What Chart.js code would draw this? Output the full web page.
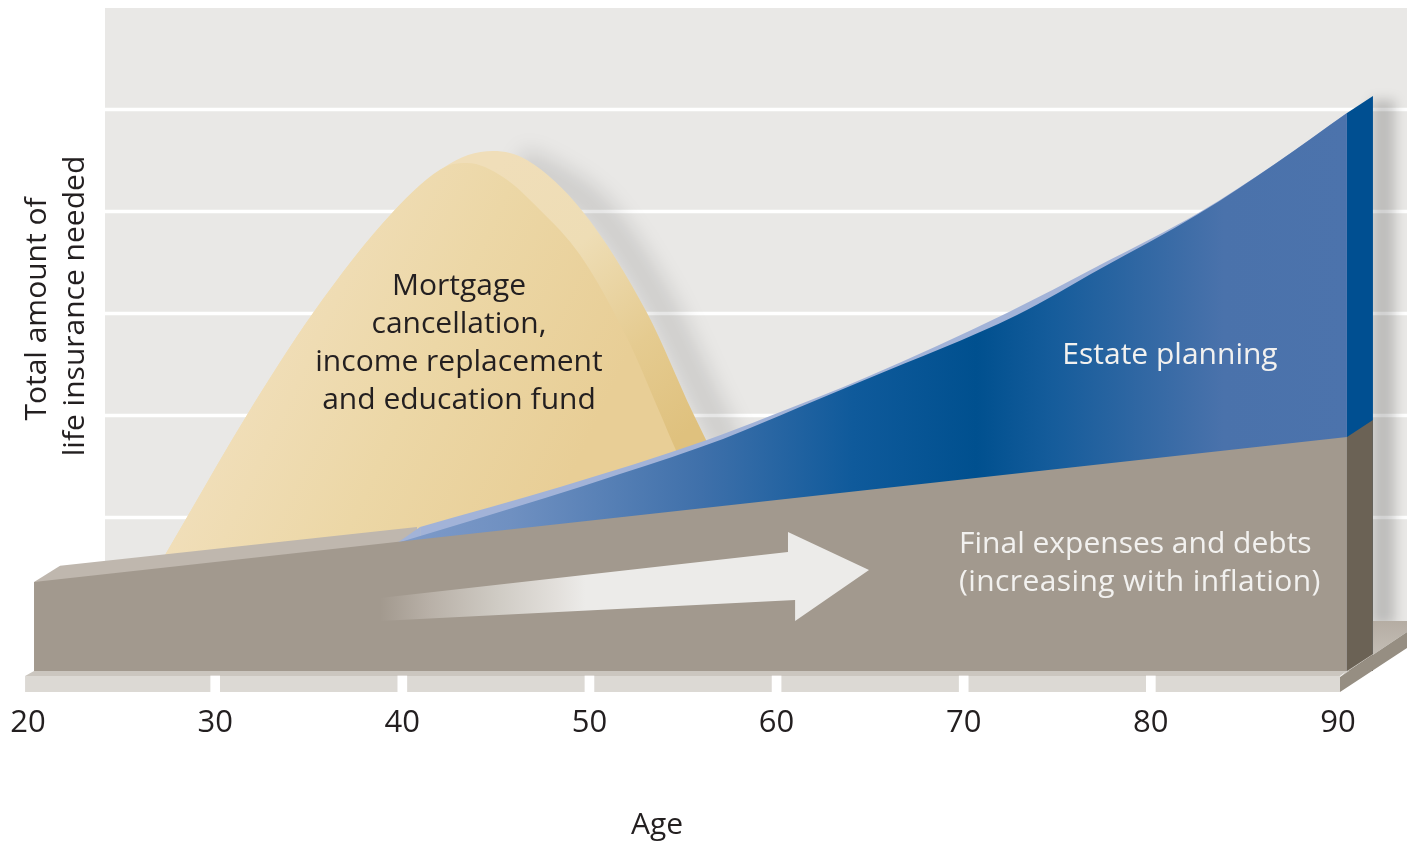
<!DOCTYPE html>
<html>
<head>
<meta charset="utf-8">
<title>Life insurance needed by age</title>
<script src="https://cdn.jsdelivr.net/npm/chart.js@4/dist/chart.umd.min.js"></script>
<style>
  html, body { margin: 0; padding: 0; background: #fff; }
  canvas { display: block; }
</style>
</head>
<body>
<canvas id="myChart" width="1407" height="842"></canvas>
<script>
// x = age, y = amount (gridlines every 100, 0 = base of the block)
const age_ticks = [20, 30, 40, 50, 60, 70, 80, 90]
const grid_values = [150.5, 250.5, 350.5, 450.5, 550.5]

const final_ages = [20.32, 90.48]
const final_vals = [87.3, 229.4]
const final_top_ages = [20.32, 21.71, 40.79]
const final_top_vals = [87.3, 103.2, 141.2]
const final_side_ages = [90.48, 91.87]
const final_side_vals = [229.4, 246.1]

const estate_ages = [39.72, 43.62, 47.63, 51.63, 57.14, 61.25, 64.83, 72.85, 77.28, 82.63, 86.63, 90.48]
const estate_vals = [125.5, 147.1, 169.6, 193.1, 227.5, 258.8, 286.3, 349, 394.1, 449, 497.1, 547]
const estate_top_ages = [40.95, 48.43, 56.28, 59.65, 64.83, 72.31, 77.28, 82.63, 86.63, 90.48]
const estate_top_vals = [141.2, 180.4, 226.5, 250, 288.2, 351, 398, 450, 497.1, 547]
const estate_corner_ages = [39.72, 40.95]
const estate_corner_vals = [125.5, 141.2]
const estate_side_ages = [90.48, 91.87]
const estate_side_vals = [547, 563.7]

const mortgage_back_ages = [27.32, 28.5, 31.7, 35.23, 39.5, 42.18, 43.51, 44.85, 46.66, 49.66, 53.08, 55.53, 56.18, 56.98]
const mortgage_back_vals = [113.7, 151, 251, 351, 450, 493.1, 505.9, 509.8, 501, 450, 351, 252.9, 228.4, 197]
const mortgage_front_ages = [27.32, 28.5, 31.7, 35.23, 39.5, 42.39, 43.46, 45.38, 47.36, 49.5, 52.01, 53.77, 54.57, 55.37]
const mortgage_front_vals = [113.7, 151, 251, 351, 450, 495, 498, 484.3, 452, 407.8, 326.5, 252.9, 218.6, 187.3]
const mortgage_shadow_ages = [46.2, 47.9, 50.57, 53.77, 56.18, 57.51]
const mortgage_shadow_vals = [498, 484, 448, 358.8, 265.7, 216.7]

const arrow_ages = [38.81, 60.61, 60.61, 64.94, 60.99, 60.99, 38.81]
const arrow_vals = [71.6, 116.7, 136.3, 99, 49, 69.6, 49]

const panel_ages = [24.11, 93.69]
const panel_vals = [650, 650]
const wall_shadow_ages = [92.41, 92.41]
const wall_shadow_vals = [559.8, 45]
const floor_ages = [90.48, 91.87, 91.87, 93.69, 93.69, 90.11]
const floor_vals = [0, 16.7, 49, 49, 38.2, -5.9]
const base_side_ages = [90.11, 93.69, 93.69, 90.11]
const base_side_vals = [-5.9, 38.2, 22.5, -20.6]
const base_top_ages = [19.84, 20.32, 90.48, 90.11]
const base_top_vals = [-4.9, 0, 0, -4.9]

const mortgage_label = ['Mortgage', 'cancellation,', 'income replacement', 'and education fund']
const estate_label = 'Estate planning'
const final_label = ['Final expenses and debts', '(increasing with inflation)']
const y_title = ['Total amount of', 'life insurance needed']
const x_title = 'Age'

const canvas = document.getElementById('myChart')
const c2d = canvas.getContext('2d')

function pts(xs, ys){
    return xs.map((x, i) => ({x: x, y: ys[i]}))
}
function grad(x0, y0, x1, y1, stops){
    const g = c2d.createLinearGradient(x0, y0, x1, y1)
    stops.forEach(s => g.addColorStop(s[0], s[1]))
    return g
}

const datasets = []
function add(ds){
    ds.order = 100 - datasets.length
    ds.clip = false
    ds.pointRadius = 0
    ds.borderWidth = ds.borderWidth || 0
    if(ds.tension === undefined) ds.tension = 0
    datasets.push(ds)
}

// back wall
add({data: pts(panel_ages, panel_vals), backgroundColor: '#e9e8e6', fill: {value: 49}})
grid_values.forEach(v => {
    add({data: pts(panel_ages, [v, v]), borderColor: '#ffffff', borderWidth: 3.5, fill: false})
})
add({data: pts(wall_shadow_ages, wall_shadow_vals), borderColor: 'rgba(0,0,0,0.18)', borderWidth: 24, fill: false, blur: 6})
add({data: pts(mortgage_shadow_ages, mortgage_shadow_vals), borderColor: 'rgba(0,0,0,0.11)', borderWidth: 32, fill: false, blur: 10, cubicInterpolationMode: 'monotone'})

// mortgage hump
add({
    data: pts(mortgage_back_ages, mortgage_back_vals),
    cubicInterpolationMode: 'monotone',
    fill: 'origin',
    backgroundColor: grad(490, 170, 700, 420, [[0, '#f0deb9'], [0.35, '#eeddb5'], [0.7, '#e5cb90'], [1, '#dfc17e']])
})
add({
    data: pts(mortgage_front_ages, mortgage_front_vals),
    cubicInterpolationMode: 'monotone',
    fill: 'origin',
    backgroundColor: grad(200, 330, 560, 500, [[0, '#f2e1c0'], [0.55, '#ecd7a6'], [1, '#e8ce96']])
})

// floor and side faces
add({data: pts(estate_side_ages, estate_side_vals), backgroundColor: '#004f91', fill: 'origin'})
add({data: pts(final_side_ages, final_side_vals), backgroundColor: '#6b6255', fill: 'origin'})
add({data: pts(floor_ages, floor_vals), backgroundColor: grad(1373, 621, 1373, 665, [[0, '#b5ada3'], [1, '#c8c3bb']]), fill: 'shape'})
add({data: pts(base_side_ages, base_side_vals), backgroundColor: '#968e82', fill: 'shape'})

// final expenses top lip
add({data: pts(final_top_ages, final_top_vals), backgroundColor: '#bfb7ae', fill: 'origin'})

// estate planning
add({data: pts(estate_corner_ages, estate_corner_vals), backgroundColor: '#a2b3d8', fill: 'origin'})
add({data: pts(estate_top_ages, estate_top_vals), backgroundColor: '#a2b3d8', fill: 'origin', cubicInterpolationMode: 'monotone'})
add({
    data: pts(estate_ages, estate_vals),
    cubicInterpolationMode: 'monotone',
    fill: 'origin',
    backgroundColor: grad(397, 0, 1347, 0, [[0, '#7f9bc9'], [0.12, '#6f90c1'], [0.32, '#3f70aa'], [0.48, '#0f5a9b'], [0.61, '#00508f'], [0.69, '#155c9b'], [0.87, '#4a72ab'], [1, '#4c73ac']])
})

// final expenses block
add({data: pts(final_ages, final_vals), backgroundColor: '#a2998e', fill: 'origin'})
add({
    data: pts(arrow_ages, arrow_vals),
    fill: 'shape',
    backgroundColor: grad(380, 0, 869, 0, [[0, '#a2998e'], [0.1, '#b8b0a7'], [0.24, '#cfcbc4'], [0.36, '#e2dfdb'], [0.42, '#ecebe9'], [1, '#ecebe9']])
})

// base plate
add({data: pts(base_top_ages, base_top_vals), backgroundColor: '#cbc6bf', fill: 'shape'})
add({data: pts([19.84, 90.11], [-4.9, -4.9]), backgroundColor: '#dcd9d4', fill: {value: -20.6}})
add({
    type: 'bar',
    data: age_ticks.slice(1, -1).map(t => ({x: t, y: [-20.6, -4.9]})),
    backgroundColor: '#ffffff',
    barThickness: 9,
    grouped: false
})

const FONT = '"Open Sans"'
const text_plugin = {
    id: 'texts',
    beforeDatasetDraw(chart, args){
        const b = chart.data.datasets[args.index].blur
        if(b) chart.ctx.filter = 'blur(' + b + 'px)'
    },
    afterDatasetDraw(chart){
        chart.ctx.filter = 'none'
    },
    afterDraw(chart){
        const ctx = chart.ctx
        ctx.save()
        ctx.textBaseline = 'middle'
        ctx.textAlign = 'center'
        ctx.font = '30px ' + FONT
        ctx.fillStyle = '#231f20'
        mortgage_label.forEach((t, i) => ctx.fillText(t, 459, 286 + i * 38))
        ctx.fillText(x_title, 657, 825)

        ctx.fillStyle = '#f2f1ef'
        ctx.fillText(estate_label, 1170, 355)
        ctx.textAlign = 'left'
        final_label.forEach((t, i) => {
            ctx.letterSpacing = i == 1 ? '0.4px' : '0px'
            ctx.fillText(t, 959, 544 + i * 38)
        })
        ctx.letterSpacing = '0px'

        ctx.fillStyle = '#231f20'
        ctx.textAlign = 'center'
        y_title.forEach((t, i) => {
            ctx.save()
            ctx.translate(37 + i * 38, 309 - i * 3)
            ctx.rotate(-Math.PI / 2)
            ctx.fillText(t, 0, 0)
            ctx.restore()
        })
        ctx.restore()
    }
}

new Chart(canvas, {
    type: 'line',
    data: {datasets: datasets},
    options: {
        responsive: false,
        animation: false,
        events: [],
        layout: {padding: {top: 8, left: 0, right: 0, bottom: 0}},
        scales: {
            x: {
                type: 'linear',
                offset: false,
                min: 18.5,
                max: 93.69,
                grid: {display: false, offset: false},
                border: {display: false},
                afterBuildTicks(scale){
                    scale.ticks = age_ticks.map(v => ({value: v}))
                },
                afterFit(scale){
                    scale.height = 150
                    scale.paddingLeft = 0
                    scale.paddingRight = 0
                },
                ticks: {
                    color: '#231f20',
                    autoSkip: false,
                    maxRotation: 0,
                    padding: 5,
                    font: {family: 'Open Sans', size: 31}
                }
            },
            y: {
                display: false,
                min: -20.6,
                max: 650
            }
        },
        plugins: {
            legend: {display: false},
            tooltip: {enabled: false}
        }
    },
    plugins: [text_plugin]
})
</script>
</body>
</html>
